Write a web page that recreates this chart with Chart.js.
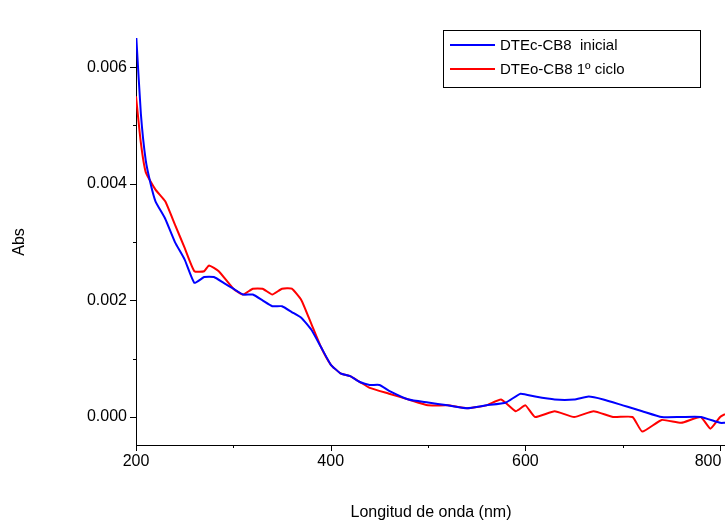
<!DOCTYPE html>
<html><head><script src="https://cdn.jsdelivr.net/npm/chart.js@4"></script>
<style>body{margin:0;background:#fff}#w{width:725px;height:526px}</style></head>
<body><div id="w"><canvas id="c"></canvas></div>
<script>
const blueX=[200,205,210,215,220,230,240,250,260,270,280,290,300,310,320,330,340,350,360,370,380,390,400,410,420,430,440,450,460,480,500,520,540,560,580,595,610,630,650,665,680,700,710,720,740,760,780,800,805];
const blueY=[0.0066,0.0052,0.0044,0.0040,0.0037,0.0034,0.0030,0.0027,0.0023,0.0024,0.0024,0.0023,0.0022,0.0021,0.0021,0.0020,0.0019,0.0019,0.0018,0.0017,0.0015,0.0012,0.0009,0.00075,0.0007,0.0006,0.00055,0.00055,0.00045,0.0003,0.00025,0.0002,0.00015,0.0002,0.00025,0.0004,0.00035,0.0003,0.0003,0.00035,0.0003,0.0002,0.00015,0.0001,0.0,0.0,0.0,-0.0001,-0.0001];
const redX=[200,205,210,220,230,240,250,260,270,275,285,300,310,320,330,340,350,360,370,380,390,400,410,420,430,440,460,480,500,520,540,560,575,590,600,610,630,650,670,690,710,720,740,760,780,790,800,805];
const redY=[0.0055,0.0047,0.0042,0.0039,0.0037,0.0033,0.0029,0.0025,0.0025,0.0026,0.0025,0.0022,0.0021,0.0022,0.0022,0.0021,0.0022,0.0022,0.0020,0.0016,0.0012,0.0009,0.00075,0.0007,0.0006,0.0005,0.0004,0.0003,0.0002,0.0002,0.00015,0.0002,0.0003,0.0001,0.0002,0.0,0.0001,0.0,0.0001,0.0,0.0,-0.00025,-0.00005,-0.0001,0.0,-0.0002,0.0,0.00005];
const labels=['DTEc-CB8  inicial','DTEo-CB8 1º ciclo'];
const F='"Liberation Sans", Arial, sans-serif';
const pts=(xs,ys)=>xs.map((x,i)=>({x,y:ys[i]}));
const deco={id:'deco',afterDraw(ch){const c=ch.ctx,a=ch.chartArea,xs=ch.scales.x,ys=ch.scales.y;
c.save();c.strokeStyle='#000';c.lineWidth=1;c.beginPath();
for(let v=200;v<=805;v+=100){const p=Math.round(xs.getPixelForValue(v))+.5,l=(v%200===0)?6:3;c.moveTo(p,a.bottom);c.lineTo(p,a.bottom+l);}
for(let k=0;k<=6;k++){const p=Math.round(ys.getPixelForValue(k*0.001))+.5,l=(k%2===0)?6:3;c.moveTo(a.left,p);c.lineTo(a.left-l,p);}
c.stroke();
c.fillStyle='#000';c.font='16px '+F;c.textAlign='center';c.textBaseline='top';
for(let v=200;v<=800;v+=200)c.fillText(v,Math.min(xs.getPixelForValue(v),708),a.bottom+9);
c.textAlign='right';c.textBaseline='middle';
for(let k=0;k<=6;k+=2)c.fillText((k*0.001).toFixed(3),a.left-9,ys.getPixelForValue(k*0.001));
c.textAlign='center';c.fillText('Longitud de onda (nm)',431,513);
c.translate(20,242);c.rotate(-Math.PI/2);c.fillText('Abs',0,0);c.setTransform(1,0,0,1,0,0);
c.strokeRect(443.5,30.5,257,57);
const cols=['#0000ff','#ff0000'];
for(let i=0;i<2;i++){const y=45+i*24;c.strokeStyle=cols[i];c.lineWidth=2;c.beginPath();c.moveTo(450,y);c.lineTo(495,y);c.stroke();
c.fillStyle='#000';c.textAlign='left';c.font='15px '+F;c.fillText(labels[i],500,y+1);}
c.restore();}};
new Chart(document.getElementById('c'),{type:'line',
data:{datasets:[{data:pts(blueX,blueY),borderColor:'#0000ff',borderWidth:2,pointRadius:0,tension:0.15},
{data:pts(redX,redY),borderColor:'#ff0000',borderWidth:2,pointRadius:0,tension:0.15}]},
options:{responsive:true,maintainAspectRatio:false,animation:false,
layout:{padding:{top:38,right:0,bottom:0,left:0}},
plugins:{legend:{display:false},tooltip:{enabled:false}},
scales:{x:{type:'linear',min:200,max:805,grid:{display:false},border:{color:'#000'},ticks:{display:false},afterFit(s){s.height=81;}},
y:{min:-0.00048,max:0.0065,grid:{display:false},border:{color:'#000'},ticks:{display:false},afterFit(s){s.width=136;}}}},
plugins:[deco]});
</script></body></html>
